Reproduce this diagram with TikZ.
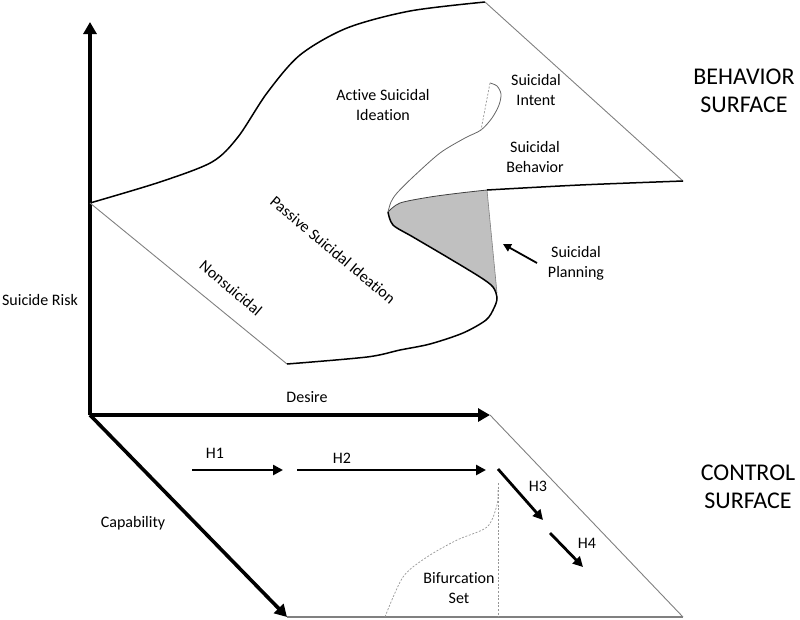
\documentclass[tikz,border=0pt]{standalone}
\usepackage{fontspec}
\setmainfont{Carlito}[Ligatures=NoCommon]
\usetikzlibrary{arrows.meta, positioning, calc}
\definecolor{edgegray}{RGB}{128,128,128}
\definecolor{foldgray}{RGB}{192,192,192}
\definecolor{dashgray}{RGB}{150,150,150}

\tikzset{
  axis/.style={line width=3.6pt, -{Triangle[length=12pt,width=13pt]}},
  hyp/.style={line width=2.8pt, -{Triangle[length=10pt,width=10pt]}},
  pointer/.style={line width=1.8pt, -{Triangle[length=8pt,width=8pt]}},
  rim/.style={line width=1.5pt},
  thinedge/.style={edgegray, line width=0.9pt},
  bifset/.style={dashgray, line width=0.7pt, dash pattern=on 2pt off 1.6pt},
  lbl/.style={font=\fontsize{16}{20}\selectfont, align=center, inner sep=1pt},
  bigl/.style={font=\fontsize{24}{28}\selectfont, align=center, inner sep=1pt}
}

\begin{document}
\begin{tikzpicture}[x=1pt, y=-1pt]
  \useasboundingbox (0,0) rectangle (800,619);

  % axes
  \coordinate (O) at (90,415);
  \coordinate (riskTip) at (90,22);
  \coordinate (desireTip) at (490,415);
  \coordinate (capTip) at (287,617);
  \coordinate (ctrlCorner) at (683,617);

  % control surface
  \draw[thinedge, line width=1.1pt] (capTip) -- (ctrlCorner);
  \draw[thinedge] (desireTip) -- (ctrlCorner);
  \draw[bifset] (498,483) -- (498,617);
  \draw[bifset] plot[smooth] coordinates
    {(498,490) (497,505) (487,527) (457,540) (427,557) (403,577) (385,617)};

  \draw[axis] (O) -- (riskTip);
  \draw[axis] (O) -- (desireTip);
  \draw[axis] (O) -- (capTip);

  % behavior surface
  \coordinate (bLeft) at (90,203);
  \coordinate (bTop) at (485,2);
  \coordinate (bRight) at (683,181);
  \coordinate (bFront) at (287,364);
  \coordinate (tip) at (388,212);
  \coordinate (foldTop) at (487,190);
  \coordinate (foldLow) at (497,293);
  \coordinate (cusp) at (481,130);
  \coordinate (cuspTop) at (490,83);

  \fill[foldgray] plot[smooth] coordinates
      {(388,212) (400,203) (430,197) (460,193) (487,190)}
    -- plot[smooth] coordinates
      {(497,293) (493,287) (480,277) (447,257) (413,237) (393,225) (388,212)}
    -- cycle;
  \draw[edgegray, line width=0.6pt] (foldTop) -- (foldLow);
  \draw[black!75, line width=0.8pt] plot[smooth] coordinates
    {(388,212) (400,203) (430,197) (460,193) (487,190)};

  \draw[rim] plot[smooth] coordinates
    {(90,203) (160,182) (212,162) (238,137) (267,93) (300,55) (347,28)
     (410,11) (485,2)};
  \draw[thinedge] (bTop) -- (bRight);
  \draw[rim] plot[smooth] coordinates {(683,181) (580,185) (487,190)};
  \draw[thinedge] (bLeft) -- (bFront);
  \draw[rim] plot[smooth] coordinates
    {(388,212) (393,225) (413,237) (447,257) (480,277) (493,287) (497,298)
     (494,308) (486,320) (463,333) (430,344) (400,350) (367,357) (287,364)};

  % fold edge and cusp
  \draw[black!60, line width=0.8pt] plot[smooth] coordinates
    {(388,212) (391,202) (397,193) (413,177) (440,153) (465,138) (481,130)
     (492,118) (499,105) (501,94) (497,86) (490,83)};
  \draw[dashgray, line width=0.7pt, dash pattern=on 2pt off 1.6pt] (cuspTop) -- (cusp);

  % labels
  \node[lbl] (risk) at (40,300) {Suicide Risk};
  \node[lbl] (desire) at (307,397) {Desire};
  \node[lbl] (capability) at (133,523) {Capability};
  \node[lbl] (active) at (383,105) {Active Suicidal\\Ideation};
  \node[lbl] (intent) at (536,90) {Suicidal\\Intent};
  \node[lbl] (behavior) at (535,157) {Suicidal\\Behavior};
  \node[lbl] (planning) at (576,263) {Suicidal\\Planning};
  \node[lbl, rotate=-40] (passive) at (333,250) {Passive Suicidal Ideation};
  \node[lbl, rotate=-40] (nonsuicidal) at (231,288) {Nonsuicidal};
  \node[lbl] (bifurcation) at (459,588) {Bifurcation\\Set};
  \node[bigl] (behaviorSurf) at (744,91) {BEHAVIOR\\SURFACE};
  \node[bigl] (controlSurf) at (748,487) {CONTROL\\SURFACE};

  \coordinate (planTail) at (537,263);
  \coordinate (planHead) at (503,244);
  \draw[pointer] (planTail) -- (planHead);

  % hypotheses
  \coordinate (h1a) at (192,470);
  \coordinate (h1b) at (283,470);
  \coordinate (h2a) at (297,470);
  \coordinate (h2b) at (486,470);
  \coordinate (h3a) at (498,469);
  \coordinate (h3b) at (543,520);
  \coordinate (h4a) at (550,533);
  \coordinate (h4b) at (583,567);
  \draw[hyp] (h1a) -- (h1b);
  \draw[hyp] (h2a) -- (h2b);
  \draw[hyp] (h3a) -- (h3b);
  \draw[hyp] (h4a) -- (h4b);
  \node[lbl] (h1) at (215,453) {H1};
  \node[lbl] (h2) at (342,458) {H2};
  \node[lbl] (h3) at (538,486) {H3};
  \node[lbl] (h4) at (587,543) {H4};
\end{tikzpicture}
\end{document}
